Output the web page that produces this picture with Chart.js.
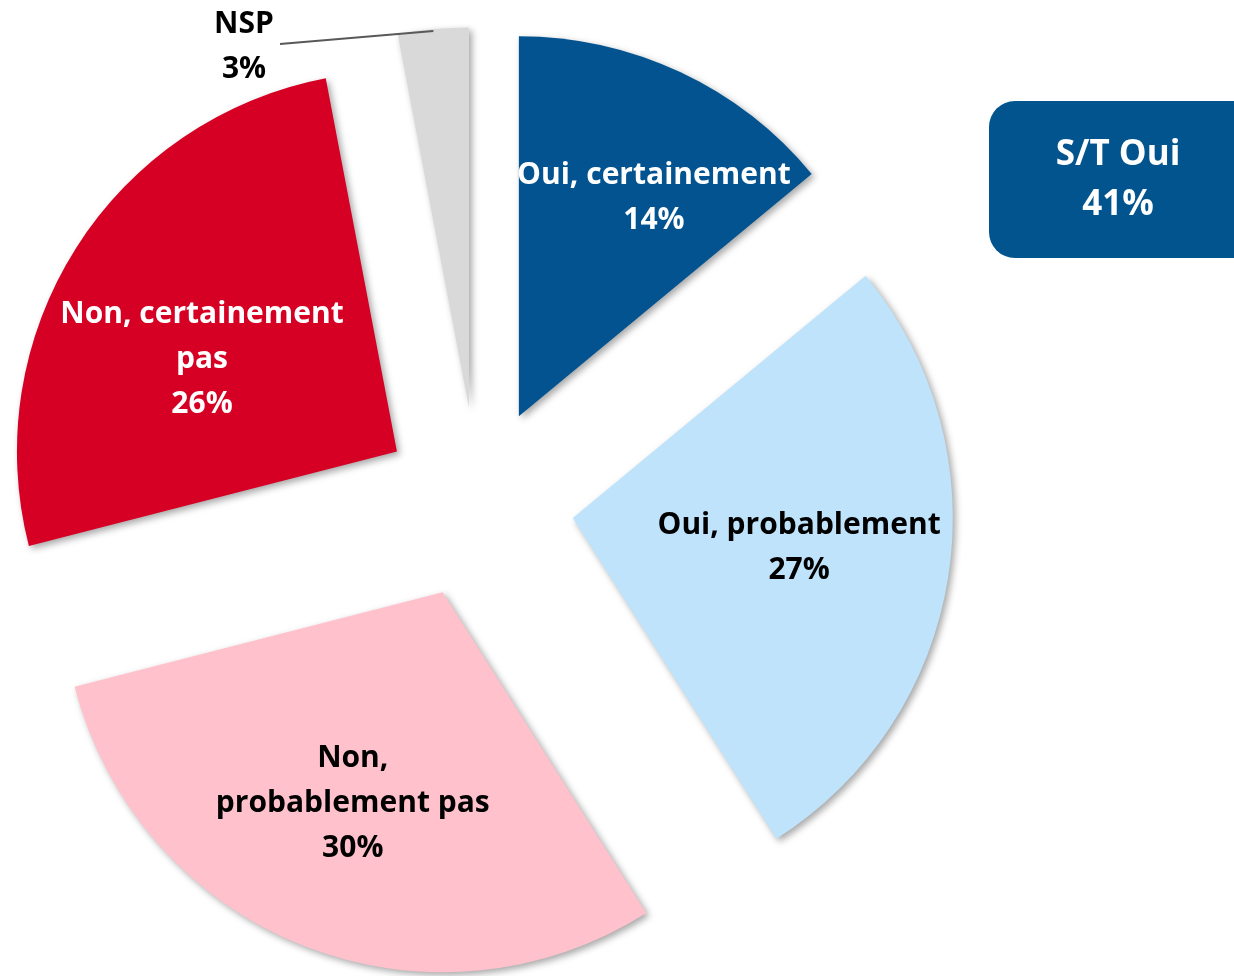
<!DOCTYPE html>
<html>
<head>
<meta charset="utf-8">
<script src="https://cdn.jsdelivr.net/npm/chart.js@4.4.1/dist/chart.umd.min.js"></script>
<style>
  body { margin: 0; background: #fff; }
  #wrap { width: 1234px; height: 976px; }
</style>
</head>
<body>
<div id="wrap"><canvas id="pieChart" width="1234" height="976"></canvas></div>
<script>
// data
var categories = ['Oui, certainement', 'Oui, probablement', 'Non, probablement pas', 'Non, certainement pas', 'NSP'];
var values = [14, 27, 30, 26, 3];
var labelLines = [['Oui, certainement'], ['Oui, probablement'], ['Non,', 'probablement pas'], ['Non, certainement', 'pas'], ['NSP']];
var sliceColors = ['#02538F', '#BEE3FB', '#FFC1CC', '#D60024', '#D9D9D9'];
var textColors = ['#ffffff', '#000000', '#000000', '#ffffff', '#000000'];
var totalLabel = ['S/T Oui', '41%'];

// label placement inside slices: [fraction of the slice angle, fraction of the radius]
var labelPlace = [[0.625, 0.68], [0.48, 0.6], [0.515, 0.6], [0.43, 0.57], null];

var FONT = 'bold 30px "Open Sans", Lato, sans-serif';
var EXPLODE = 96;

var explodePlugin = {
    id: 'explode',
    beforeDatasetsDraw: function(chart) {
        var meta = chart.getDatasetMeta(0);
        meta.data.forEach(function(el) {
            var mid = (el.startAngle + el.endAngle) / 2;
            el.x += Math.cos(mid) * EXPLODE;
            el.y += Math.sin(mid) * EXPLODE;
        });
        var ctx = chart.ctx;
        ctx.save();
        ctx.shadowColor = 'rgba(0,0,0,0.35)';
        ctx.shadowBlur = 7;
        ctx.shadowOffsetX = 3;
        ctx.shadowOffsetY = 3;
    },
    afterDatasetsDraw: function(chart) {
        var ctx = chart.ctx;
        ctx.restore();
        var meta = chart.getDatasetMeta(0);

        ctx.save();
        ctx.font = FONT;
        ctx.textAlign = 'center';
        ctx.textBaseline = 'middle';
        meta.data.forEach(function(el, i) {
            var lines = labelLines[i].slice();
            lines.push(values[i] + '%');
            var px, py;
            if (labelPlace[i]) {
                var a = el.startAngle + (el.endAngle - el.startAngle) * labelPlace[i][0];
                var d = el.outerRadius * labelPlace[i][1];
                px = el.x + Math.cos(a) * d;
                py = el.y + Math.sin(a) * d;
            } else {
                // outside label with leader line
                var mid = (el.startAngle + el.endAngle) / 2;
                var sx = el.x + Math.cos(mid) * (el.outerRadius - 2);
                var sy = el.y + Math.sin(mid) * (el.outerRadius - 2);
                var ex = 280, ey = 44;
                ctx.strokeStyle = '#595959';
                ctx.lineWidth = 2;
                ctx.beginPath();
                ctx.moveTo(sx, sy);
                ctx.lineTo(ex, ey);
                ctx.stroke();
                px = ex - 36;
                py = ey + 1;
            }
            ctx.fillStyle = textColors[i];
            var lh = 45;
            var y0 = py + 2 - (lines.length - 1) * lh / 2;
            lines.forEach(function(t, k) {
                ctx.fillText(t, px, y0 + k * lh);
            });
        });

        // S/T Oui box
        ctx.fillStyle = '#02548F';
        ctx.beginPath();
        ctx.roundRect(989, 101, 270, 157, 26);
        ctx.fill();
        ctx.fillStyle = '#ffffff';
        ctx.font = 'bold 35px "Open Sans", Lato, sans-serif';
        ctx.fillText(totalLabel[0], 1118, 155);
        ctx.fillText(totalLabel[1], 1118, 205);
        ctx.restore();

        // put the elements back
        meta.data.forEach(function(el) {
            var mid = (el.startAngle + el.endAngle) / 2;
            el.x -= Math.cos(mid) * EXPLODE;
            el.y -= Math.sin(mid) * EXPLODE;
        });
    }
};

var ctxP = document.getElementById('pieChart').getContext('2d');
var myPieChart = new Chart(ctxP, {
    type: 'pie',
    data: {
        labels: categories,
        datasets: [{
            data: values,
            backgroundColor: sliceColors,
            borderWidth: 0,
            clip: false
        }]
    },
    options: {
        responsive: false,
        animation: false,
        radius: 380,
        layout: { padding: { left: 0, right: 278, top: 30, bottom: 0 } },
        plugins: {
            legend: { display: false },
            tooltip: { enabled: false }
        }
    },
    plugins: [explodePlugin]
});
</script>
</body>
</html>
